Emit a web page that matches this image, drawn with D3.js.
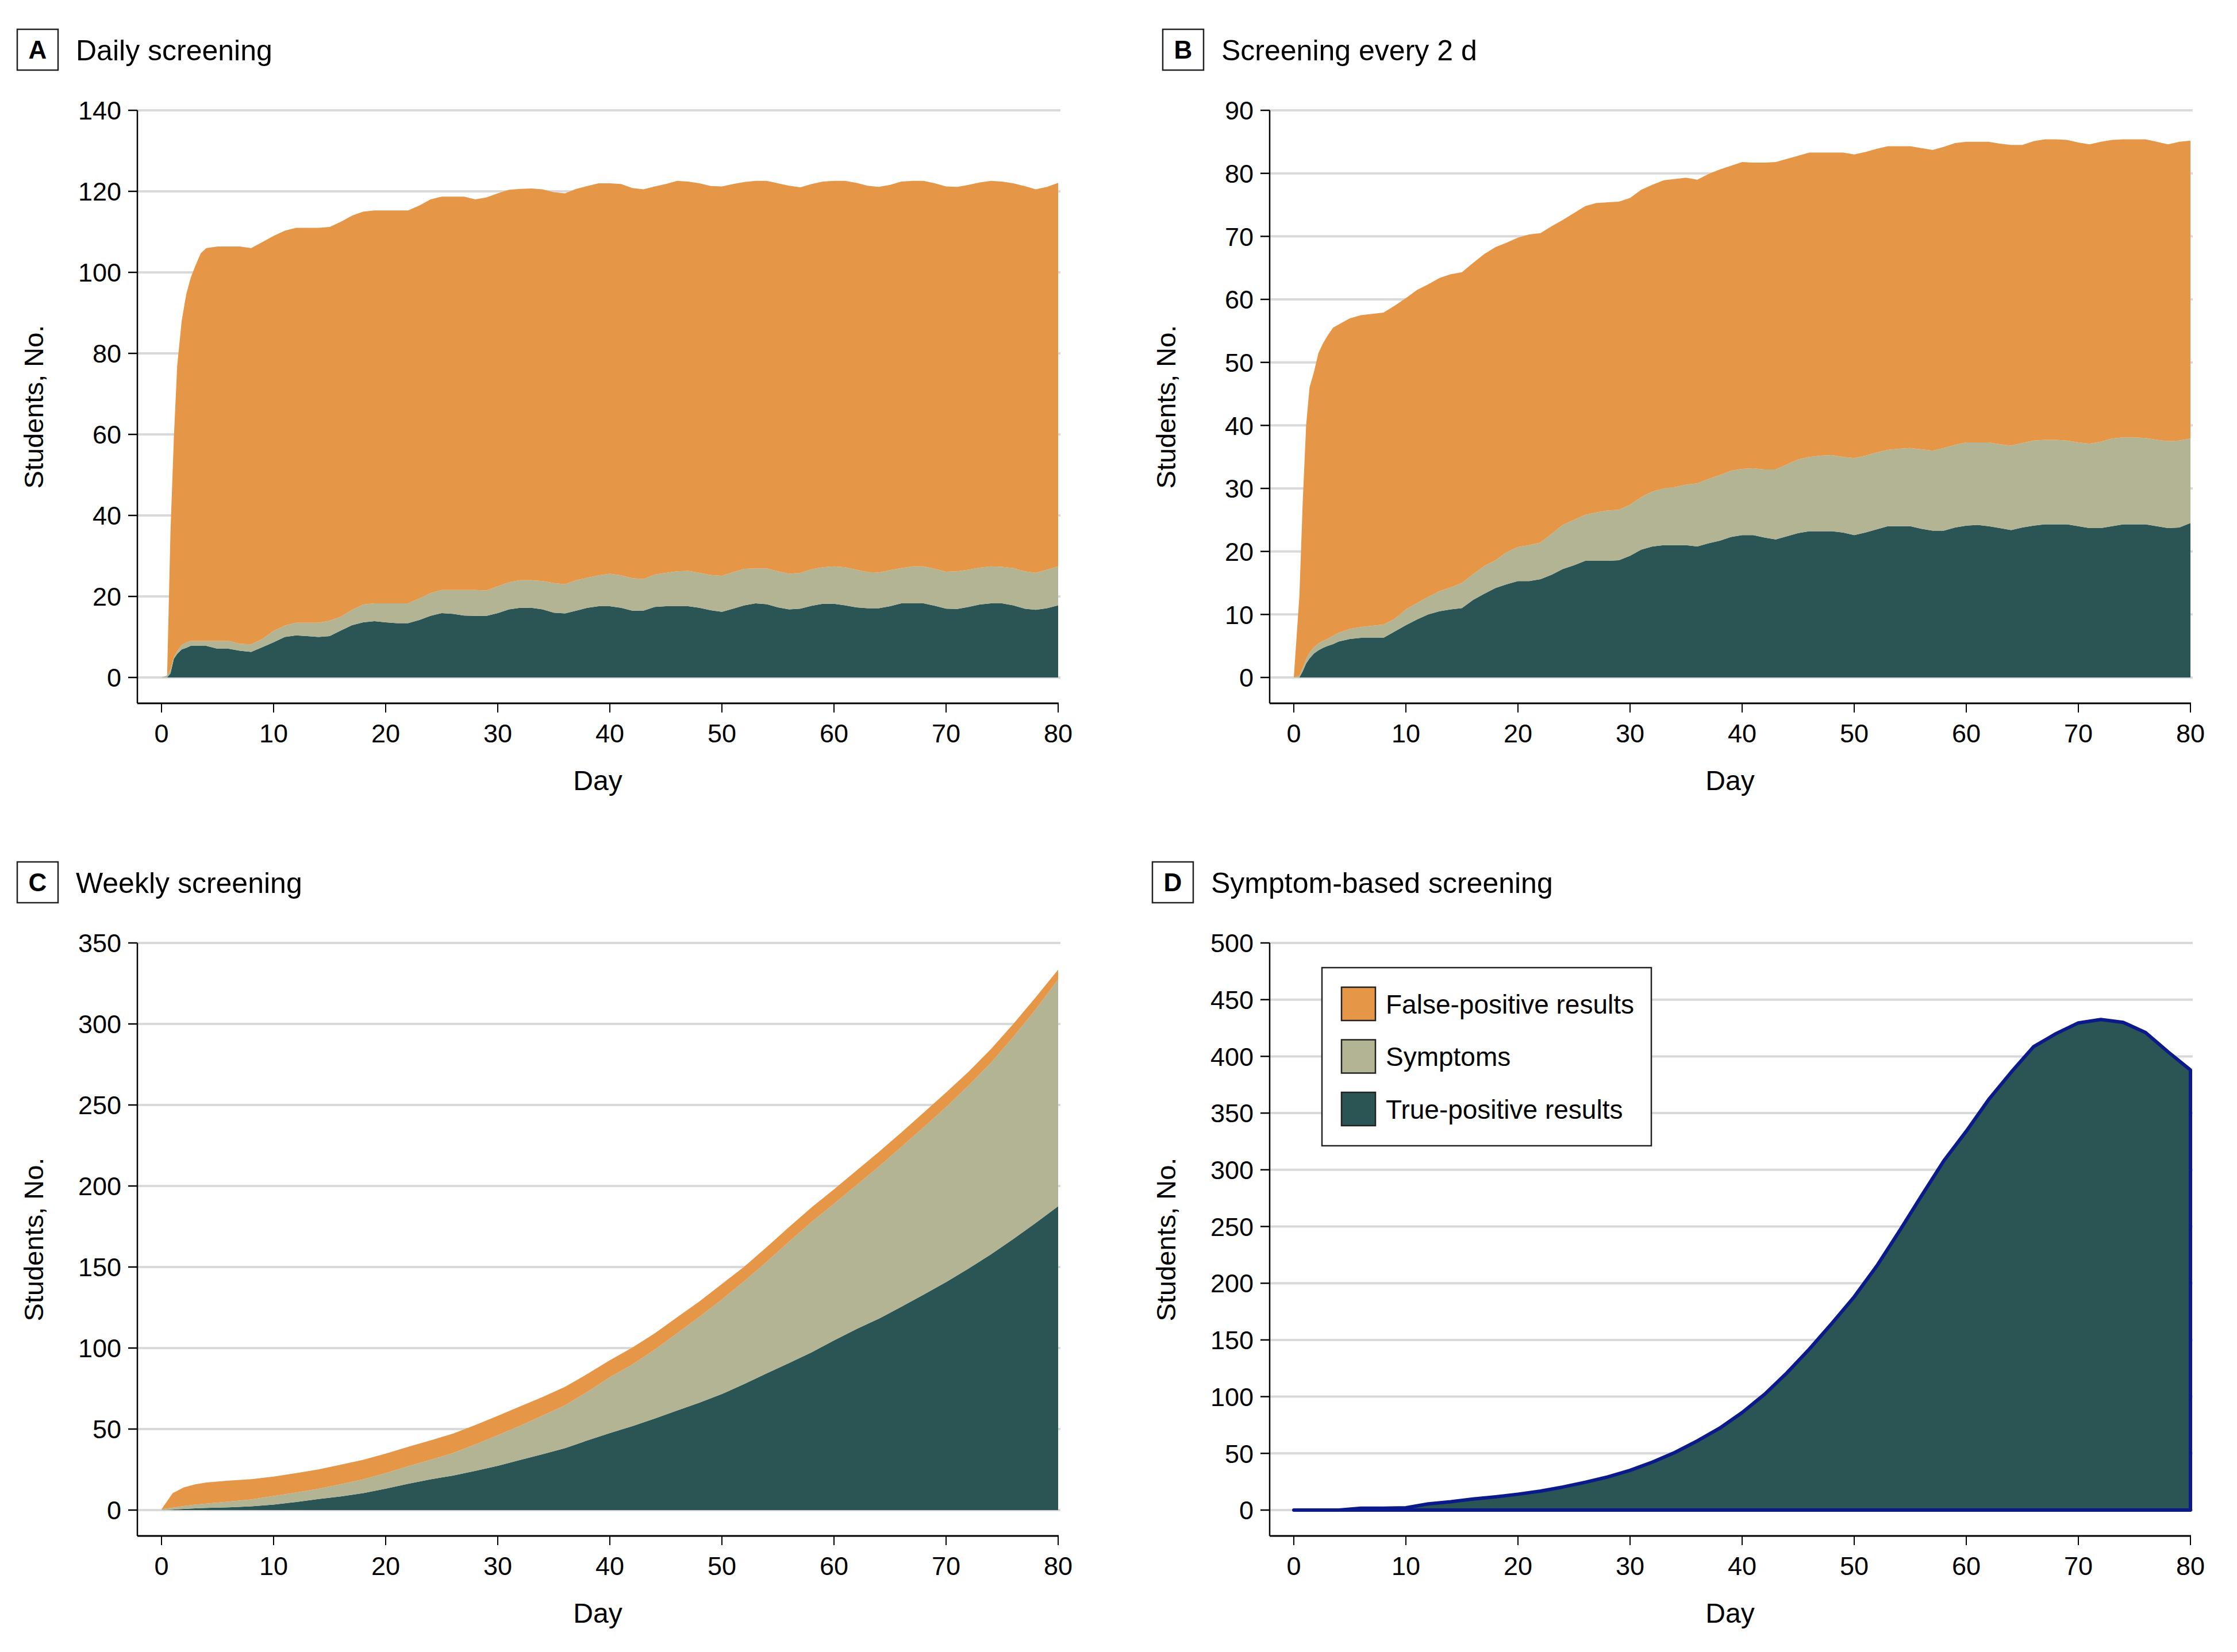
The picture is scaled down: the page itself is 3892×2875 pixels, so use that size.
<!DOCTYPE html>
<html>
<head>
<meta charset="utf-8">
<script src="https://cdn.jsdelivr.net/npm/d3@7"></script>
<style>
  body { margin: 0; background: #fff; }
  svg { display: block; }
</style>
</head>
<body>
<div id="chart"></div>
<script>
// days sampled for panels A and B (finer at the start, where the curves jump)
const daysAB = [0, 0.5, 0.8, 1.1, 1.4, 1.8, 2.2, 2.6, 3, 3.5, 4,
  5, 6, 7, 8, 9, 10, 11, 12, 13, 14, 15, 16, 17, 18, 19, 20, 21, 22, 23, 24, 25, 26, 27, 28, 29, 30,
  31, 32, 33, 34, 35, 36, 37, 38, 39, 40, 41, 42, 43, 44, 45, 46, 47, 48, 49, 50, 51, 52, 53, 54, 55,
  56, 57, 58, 59, 60, 61, 62, 63, 64, 65, 66, 67, 68, 69, 70, 71, 72, 73, 74, 75, 76, 77, 78, 79, 80]

// days sampled for panels C and D
const daysCD = [0, 1, 2, 3, 4, 6, 8, 10, 12, 14, 16, 18, 20, 22, 24, 26, 28, 30, 32, 34, 36, 38, 40,
  42, 44, 46, 48, 50, 52, 54, 56, 58, 60, 62, 64, 66, 68, 70, 72, 74, 76, 78, 80]

// A  Daily screening
const dailyTrue = [0, 0, 1, 4.6, 5.8, 6.9, 7.3, 7.8, 7.8, 7.8, 7.8,
  7.1, 7.1, 6.6, 6.3, 7.5, 8.7, 10, 10.4, 10.2, 10, 10.2, 11.6, 12.9, 13.6, 13.9, 13.6, 13.4, 13.4, 14.2, 15.2,
  15.9, 15.7, 15.3, 15.2, 15.2, 15.9, 16.8, 17.2, 17.2, 16.8, 16, 15.8, 16.5, 17.2, 17.6, 17.6, 17.2, 16.5,
  16.5, 17.4, 17.6, 17.6, 17.6, 17.2, 16.6, 16.2, 17, 17.8, 18.3, 18.1, 17.3, 16.8, 17, 17.7, 18.2, 18.2,
  17.8, 17.3, 17.1, 17.1, 17.6, 18.3, 18.3, 18.3, 17.7, 17, 16.9, 17.4, 18, 18.3, 18.3, 17.8, 17, 16.7, 17.1, 17.8]
const dailySymptoms = [0, 0.5, 1, 0.4, 0.7, 1.1, 1.3, 1.2, 1.2, 1.2, 1.2,
  1.9, 1.9, 1.7, 1.9, 2, 2.8, 2.8, 3.1, 3.3, 3.5, 3.8, 3.4, 3.8, 4.4, 4.4, 4.7, 4.9, 4.9, 5.3, 5.6,
  5.7, 5.9, 6.3, 6.4, 6.3, 6.6, 6.7, 6.8, 6.8, 7, 7.3, 7.2, 7.5, 7.4, 7.6, 8, 8, 8,
  7.8, 8, 8.2, 8.6, 8.7, 8.6, 8.7, 8.9, 9, 9, 8.6, 8.8, 8.9, 8.8, 8.8, 9, 9, 9.2,
  9.4, 9.3, 8.9, 8.8, 8.9, 8.7, 9.1, 9.1, 9.1, 9.1, 9.3, 9.2, 9.1, 9.1, 9, 9.2, 9.2, 9.1, 9.5, 9.6]
const dailyFalse = [0, 0, 34, 54, 70.5, 80, 85.9, 89.6, 92.5, 95.7, 97,
  97.4, 97.4, 98.1, 97.8, 98, 97.5, 97.5, 97.5, 97.5, 97.5, 97.2, 97.5, 97.3, 97, 97, 97, 97, 97, 97, 97.2,
  97.1, 97.1, 97.1, 96.4, 97, 97, 96.9, 96.6, 96.7, 96.7, 96.5, 96.5, 96.6, 96.7, 96.8, 96.4, 96.6, 96.3,
  96.2, 95.8, 96, 96.4, 96.1, 96.2, 96, 96.1, 95.8, 95.5, 95.7, 95.7, 95.8, 95.8, 95.2, 95.1, 95.2, 95.2,
  95.4, 95.5, 95.4, 95.2, 95.1, 95.4, 95.2, 95.2, 95.2, 95.1, 94.9, 95, 95.1, 95.2, 95.1, 95, 95.1, 94.7, 94.5, 94.7]

// B  Screening every 2 d
const twoDayTrue = [0, 0, 1, 2.2, 3, 3.8, 4.3, 4.7, 5, 5.3, 5.7,
  6.1, 6.3, 6.3, 6.3, 7.3, 8.3, 9.2, 10, 10.5, 10.8, 11, 12.3, 13.3, 14.2, 14.8, 15.3, 15.3, 15.6, 16.3, 17.2,
  17.8, 18.5, 18.5, 18.5, 18.6, 19.3, 20.3, 20.8, 21, 21, 21, 20.8, 21.3, 21.7, 22.3, 22.6, 22.6, 22.2,
  21.9, 22.4, 22.9, 23.2, 23.2, 23.2, 23, 22.6, 23, 23.5, 24, 24, 24, 23.6, 23.3, 23.3, 23.8, 24.1,
  24.2, 24, 23.7, 23.4, 23.8, 24.1, 24.3, 24.3, 24.3, 24, 23.7, 23.7, 24, 24.3, 24.3, 24.3, 24, 23.7, 23.8, 24.5]
const twoDaySymptoms = [0, 0.3, 0.5, 0.7, 0.9, 1, 1.1, 1.1, 1.1, 1.3, 1.4,
  1.6, 1.7, 1.9, 2.1, 2, 2.5, 2.6, 2.8, 3.2, 3.5, 4, 4.1, 4.4, 4.4, 5.1, 5.4, 5.7, 5.8, 6.5, 7,
  7.2, 7.3, 7.7, 8, 8, 8.1, 8.3, 8.7, 9, 9.2, 9.6, 10, 10.2, 10.4, 10.5, 10.5, 10.6, 10.8,
  11.1, 11.4, 11.7, 11.8, 12, 12.1, 12, 12.2, 12.2, 12.2, 12.1, 12.3, 12.4, 12.6, 12.7, 13.1, 13.1, 13.2,
  13.1, 13.3, 13.3, 13.4, 13.4, 13.5, 13.4, 13.4, 13.3, 13.3, 13.4, 13.7, 13.9, 13.8, 13.8, 13.7, 13.7, 13.8, 13.8, 13.4]
const twoDayFalse = [0, 12.7, 26.5, 37.1, 42.1, 43.7, 46.1, 47.2, 48.1, 48.9, 48.9,
  49.3, 49.5, 49.5, 49.5, 49.7, 49.4, 49.7, 49.6, 49.7, 49.7, 49.3, 49.4, 49.5, 49.7, 49.1, 49.1, 49.3, 49.1, 48.8, 48.4,
  48.7, 49, 49.1, 48.9, 48.9, 48.7, 48.8, 48.7, 48.9, 48.9, 48.7, 48.2, 48.4, 48.5, 48.4, 48.7, 48.5, 48.7,
  48.8, 48.5, 48.2, 48.3, 48.1, 48, 48.3, 48.2, 48.2, 48.2, 48.2, 48, 47.9, 47.8, 47.7, 47.8, 47.9, 47.7,
  47.7, 47.7, 47.7, 47.7, 47.3, 47.5, 47.7, 47.7, 47.7, 47.6, 47.5, 47.6, 47.4, 47.3, 47.3, 47.4, 47.3, 47.1, 47.4, 47.3]

// C  Weekly screening
const weeklyTrue = [0, 0.3, 0.7, 1.1, 1.3, 1.7, 2.3, 3.4, 5, 6.8, 8.4, 10.5, 13.2, 16.2, 19, 21.3, 24.2, 27.3,
  30.9, 34.5, 38.2, 43, 47.5, 51.8, 56.5, 61.4, 66.3, 71.6, 77.8, 84.4, 90.8, 97.3, 104.7, 111.7, 118.1,
  125.4, 133, 140.7, 149, 157.8, 167.3, 177.2, 187.5]
const weeklySymptoms = [0.5, 1.2, 1.8, 2.3, 2.7, 3.5, 4.3, 5.3, 5.8, 6.3, 7.6, 8.5, 9.6, 10.8, 12, 13.9, 16.3,
  18.9, 21.1, 23.8, 26.4, 30, 34.5, 38, 42.5, 47.6, 53, 58.4, 63.5, 68.9, 74.9, 80.5, 84.3, 88.8, 93.9,
  98.6, 103.3, 108, 113, 118.2, 124.7, 131.8, 140]
const weeklyFalse = [0, 9, 11.5, 12.5, 13, 13, 12.5, 12, 12, 12, 12, 12, 12, 12, 12, 12, 12, 12, 12, 11.5,
  11.5, 11, 10.5, 10.5, 10, 10, 9.5, 9.5, 9, 9, 9, 9, 9, 9, 9, 9, 9, 9, 8.5, 8.5, 8, 7.5, 6]

// D  Symptom-based screening
const symptomTrue = [0, 0, 0, 0, 0, 1.6, 1.7, 2, 5.5, 7.3, 9.8, 11.7, 14, 16.7, 20.3, 24.5, 29.2, 35, 42.3,
  50.8, 61, 72.2, 86, 102, 121, 142, 164.5, 188, 215, 245.5, 277, 308, 334, 362, 386, 408.5, 420, 429.5,
  432.5, 430, 421, 404, 388]
const symptomSymptoms = daysCD.map(() => 0)
const symptomFalse = daysCD.map(() => 0)

const seriesKeys = ['truePos', 'symptoms', 'falsePos']
const legendKeys = ['falsePos', 'symptoms', 'truePos']
const legendLabels = ['False-positive results', 'Symptoms', 'True-positive results']
const colors = { falsePos: '#E59647', symptoms: '#B2B494', truePos: '#2B5454' }
const xTicks = [0, 10, 20, 30, 40, 50, 60, 70, 80]

const FONT = '"Liberation Sans", Arial, sans-serif'

const svg = d3.select('#chart')
  .append('svg')
  .attr('width', 3892)
  .attr('height', 2875)
  .attr('viewBox', '0 0 3892 2875')
  .style('background', '#fff')
  .style('font-family', FONT)

function renderPanel({ letter, title, days, truePos, symptoms, falsePos, yMax, yStep,
  dx, dy, titleDx, outline = null, legend = false }) {
  const g = svg.append('g').attr('transform', `translate(${dx}, ${dy})`)
  const axisLeft = 239
  const x = d3.scaleLinear().domain([0, 80]).range([281, 1841])
  const y = d3.scaleLinear().domain([0, yMax]).range([1179, 192])
  const axisY = 1224

  // header: boxed letter + title
  const head = g.append('g').attr('transform', `translate(${titleDx}, 0)`)
  head.append('rect')
    .attr('x', 30).attr('y', 51).attr('width', 71).attr('height', 71)
    .attr('fill', 'none').attr('stroke', '#222').attr('stroke-width', 2.5)
  head.append('text')
    .attr('x', 65.5).attr('y', 102)
    .attr('text-anchor', 'middle')
    .attr('font-weight', 'bold')
    .attr('font-size', 44)
    .text(letter)
  head.append('text')
    .attr('x', 132).attr('y', 105)
    .attr('font-size', 50)
    .text(title)

  const yTicks = d3.range(0, yMax + yStep / 2, yStep)

  // gridlines
  g.append('g').selectAll('line')
    .data(yTicks)
    .join('line')
    .attr('x1', axisLeft).attr('x2', 1845)
    .attr('y1', d => y(d)).attr('y2', d => y(d))
    .attr('stroke', '#d9d9d9').attr('stroke-width', 4)

  // stacked areas
  const rows = days.map((d, i) => ({
    day: d, truePos: truePos[i], symptoms: symptoms[i], falsePos: falsePos[i],
  }))
  const stacked = d3.stack().keys(seriesKeys)(rows)
  const area = d3.area()
    .x(d => x(d.data.day))
    .y0(d => y(d[0]))
    .y1(d => y(d[1]))

  g.append('g').selectAll('path')
    .data(stacked)
    .join('path')
    .attr('d', area)
    .attr('fill', s => colors[s.key])
    .attr('stroke', s => (outline && s.key === 'truePos' ? outline : 'none'))
    .attr('stroke-width', s => (outline && s.key === 'truePos' ? 6 : 0))
    .attr('stroke-linejoin', 'round')

  // y axis
  g.append('line')
    .attr('x1', axisLeft).attr('x2', axisLeft)
    .attr('y1', 192).attr('y2', axisY)
    .attr('stroke', '#000').attr('stroke-width', 2.5)
  g.append('g').selectAll('line')
    .data(yTicks)
    .join('line')
    .attr('x1', 223).attr('x2', axisLeft)
    .attr('y1', d => y(d)).attr('y2', d => y(d))
    .attr('stroke', '#000').attr('stroke-width', 2.5)
  g.append('g').selectAll('text')
    .data(yTicks)
    .join('text')
    .attr('x', 211)
    .attr('y', d => y(d))
    .attr('dy', '0.36em')
    .attr('text-anchor', 'end')
    .attr('font-size', 45)
    .text(d => d)

  // x axis
  g.append('line')
    .attr('x1', axisLeft).attr('x2', x(80) + 1)
    .attr('y1', axisY).attr('y2', axisY)
    .attr('stroke', '#000').attr('stroke-width', 3)
  g.append('g').selectAll('line')
    .data(xTicks)
    .join('line')
    .attr('x1', d => x(d)).attr('x2', d => x(d))
    .attr('y1', axisY).attr('y2', axisY + 16)
    .attr('stroke', '#000').attr('stroke-width', 2)
  g.append('g').selectAll('text')
    .data(xTicks)
    .join('text')
    .attr('x', d => x(d))
    .attr('y', 1292)
    .attr('text-anchor', 'middle')
    .attr('font-size', 45)
    .text(d => d)

  // axis titles
  g.append('text')
    .attr('x', (axisLeft + x(80)) / 2)
    .attr('y', 1375)
    .attr('text-anchor', 'middle')
    .attr('font-size', 48)
    .text('Day')
  g.append('text')
    .attr('transform', `translate(75, ${(192 + axisY) / 2}) rotate(-90)`)
    .attr('text-anchor', 'middle')
    .attr('font-size', 47)
    .text('Students, No.')

  if (legend) {
    const lg = g.append('g').attr('transform', `translate(${2300 - 1970}, ${1684 - 1449})`)
    lg.append('rect')
      .attr('width', 573).attr('height', 310)
      .attr('fill', '#fff').attr('stroke', '#222').attr('stroke-width', 2.5)
    const item = lg.selectAll('g.item')
      .data(legendKeys)
      .join('g')
      .attr('class', 'item')
      .attr('transform', (d, i) => `translate(34, ${34 + i * 91.5})`)
    item.append('rect')
      .attr('width', 59).attr('height', 58)
      .attr('fill', d => colors[d])
      .attr('stroke', '#222').attr('stroke-width', 2.5)
    item.append('text')
      .attr('x', 77).attr('y', 29)
      .attr('dy', '0.36em')
      .attr('font-size', 46)
      .text((d, i) => legendLabels[i])
  }
}

renderPanel({
  letter: 'A', title: 'Daily screening', days: daysAB,
  truePos: dailyTrue, symptoms: dailySymptoms, falsePos: dailyFalse,
  yMax: 140, yStep: 20, dx: 0, dy: 0, titleDx: 0,
})
renderPanel({
  letter: 'B', title: 'Screening every 2 d', days: daysAB,
  truePos: twoDayTrue, symptoms: twoDaySymptoms, falsePos: twoDayFalse,
  yMax: 90, yStep: 10, dx: 1970, dy: 0, titleDx: 23,
})
renderPanel({
  letter: 'C', title: 'Weekly screening', days: daysCD,
  truePos: weeklyTrue, symptoms: weeklySymptoms, falsePos: weeklyFalse,
  yMax: 350, yStep: 50, dx: 0, dy: 1449, titleDx: 0,
})
renderPanel({
  letter: 'D', title: 'Symptom-based screening', days: daysCD,
  truePos: symptomTrue, symptoms: symptomSymptoms, falsePos: symptomFalse,
  yMax: 500, yStep: 50, dx: 1970, dy: 1449, titleDx: 5,
  outline: '#0B1A8A', legend: true,
})
</script>
</body>
</html>
